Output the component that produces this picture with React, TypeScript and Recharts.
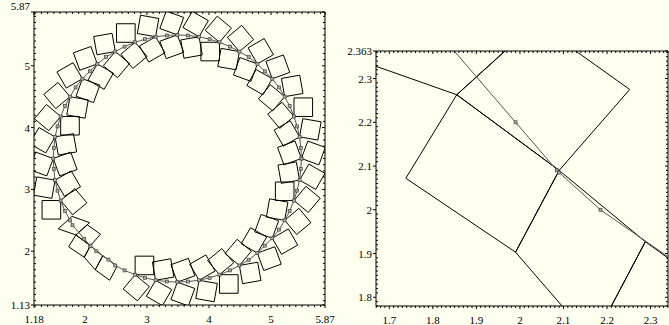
import React from 'react';
import { ScatterChart, Scatter, XAxis, YAxis } from 'recharts';

type Pt = [number, number];

// gray traced curve (square markers)
const ringPts: Pt[] = [
  [5.49, 3.5], [5.48, 3.67], [5.46, 3.85], [5.42, 4.02], [5.37, 4.18], [5.3, 4.35],
  [5.22, 4.5], [5.13, 4.65], [5.02, 4.79], [4.9, 4.91], [4.78, 5.03], [4.64, 5.14],
  [4.49, 5.23], [4.34, 5.31], [4.17, 5.38], [4.01, 5.43], [3.84, 5.47], [3.66, 5.49],
  [3.49, 5.5], [3.32, 5.49], [3.14, 5.47], [2.97, 5.43], [2.81, 5.38], [2.64, 5.31],
  [2.49, 5.23], [2.34, 5.14], [2.2, 5.03], [2.08, 4.91], [1.96, 4.79], [1.85, 4.65],
  [1.76, 4.5], [1.68, 4.35], [1.61, 4.18], [1.56, 4.02], [1.52, 3.85], [1.5, 3.67],
  [1.49, 3.5], [1.5, 3.33], [1.52, 3.15], [1.56, 2.98], [1.61, 2.82], [1.68, 2.65],
  [1.76, 2.5], [1.8, 2.42], [1.99, 2.2], [2.085, 2.09], [2.09, 2.085], [2.185, 2.0],
  [2.38, 1.865], [2.49, 1.77], [2.64, 1.69], [2.81, 1.62], [2.97, 1.57], [3.14, 1.53],
  [3.32, 1.51], [3.49, 1.5], [3.66, 1.51], [3.84, 1.53], [4.01, 1.57], [4.17, 1.62],
  [4.34, 1.69], [4.49, 1.77], [4.64, 1.86], [4.78, 1.97], [4.9, 2.09], [5.02, 2.21],
  [5.13, 2.35], [5.22, 2.5], [5.3, 2.65], [5.37, 2.82], [5.42, 2.98], [5.46, 3.15],
  [5.48, 3.33],
];

// squares hanging outside the curve, first corner on the curve
const outerBoxes: Pt[][] = [
  [[2.81, 1.62], [3.04, 1.427], [2.847, 1.197], [2.617, 1.39]],
  [[3.14, 1.53], [3.4, 1.38], [3.25, 1.12], [2.99, 1.27]],
  [[3.49, 1.5], [3.772, 1.397], [3.669, 1.115], [3.387, 1.218]],
  [[3.84, 1.53], [4.135, 1.478], [4.083, 1.182], [3.788, 1.235]],
  [[4.17, 1.62], [4.47, 1.62], [4.47, 1.32], [4.17, 1.32]],
  [[4.49, 1.77], [4.785, 1.822], [4.838, 1.527], [4.542, 1.475]],
  [[4.78, 1.97], [5.062, 2.073], [5.165, 1.791], [4.883, 1.688]],
  [[5.02, 2.21], [5.28, 2.36], [5.43, 2.1], [5.17, 1.95]],
  [[5.22, 2.5], [5.45, 2.693], [5.643, 2.463], [5.413, 2.27]],
  [[5.37, 2.82], [5.563, 3.05], [5.793, 2.857], [5.6, 2.627]],
  [[5.46, 3.15], [5.61, 3.41], [5.87, 3.26], [5.72, 3.0]],
  [[5.49, 3.5], [5.593, 3.782], [5.875, 3.679], [5.772, 3.397]],
  [[5.46, 3.85], [5.512, 4.145], [5.808, 4.093], [5.755, 3.798]],
  [[5.37, 4.18], [5.37, 4.48], [5.67, 4.48], [5.67, 4.18]],
  [[5.22, 4.5], [5.168, 4.795], [5.463, 4.848], [5.515, 4.552]],
  [[5.02, 4.79], [4.917, 5.072], [5.199, 5.175], [5.302, 4.893]],
  [[4.78, 5.03], [4.63, 5.29], [4.89, 5.44], [5.04, 5.18]],
  [[4.49, 5.23], [4.297, 5.46], [4.527, 5.653], [4.72, 5.423]],
  [[4.17, 5.38], [3.94, 5.573], [4.133, 5.803], [4.363, 5.61]],
  [[3.84, 5.47], [3.58, 5.62], [3.73, 5.88], [3.99, 5.73]],
  [[3.49, 5.5], [3.208, 5.603], [3.311, 5.885], [3.593, 5.782]],
  [[3.14, 5.47], [2.845, 5.522], [2.897, 5.818], [3.192, 5.765]],
  [[2.81, 5.38], [2.51, 5.38], [2.51, 5.68], [2.81, 5.68]],
  [[2.49, 5.23], [2.195, 5.178], [2.142, 5.473], [2.438, 5.525]],
  [[2.2, 5.03], [1.918, 4.927], [1.815, 5.209], [2.097, 5.312]],
  [[1.96, 4.79], [1.7, 4.64], [1.55, 4.9], [1.81, 5.05]],
  [[1.76, 4.5], [1.53, 4.307], [1.337, 4.537], [1.567, 4.73]],
  [[1.61, 4.18], [1.417, 3.95], [1.187, 4.143], [1.38, 4.373]],
  [[1.52, 3.85], [1.37, 3.59], [1.11, 3.74], [1.26, 4.0]],
  [[1.49, 3.5], [1.387, 3.218], [1.105, 3.321], [1.208, 3.603]],
  [[1.52, 3.15], [1.468, 2.855], [1.172, 2.907], [1.225, 3.202]],
  [[1.61, 2.82], [1.61, 2.52], [1.31, 2.52], [1.31, 2.82]],
];

// squares hanging inside the curve
const innerBoxes: Pt[][] = [
  [[2.81, 1.62], [2.81, 1.92], [3.11, 1.92], [3.11, 1.62]],
  [[3.14, 1.53], [3.088, 1.825], [3.383, 1.878], [3.435, 1.582]],
  [[3.49, 1.5], [3.387, 1.782], [3.669, 1.885], [3.772, 1.603]],
  [[3.84, 1.53], [3.69, 1.79], [3.95, 1.94], [4.1, 1.68]],
  [[4.17, 1.62], [3.977, 1.85], [4.207, 2.043], [4.4, 1.813]],
  [[4.49, 1.77], [4.26, 1.963], [4.453, 2.193], [4.683, 2.0]],
  [[4.78, 1.97], [4.52, 2.12], [4.67, 2.38], [4.93, 2.23]],
  [[5.02, 2.21], [4.738, 2.313], [4.841, 2.595], [5.123, 2.492]],
  [[5.22, 2.5], [4.925, 2.552], [4.977, 2.848], [5.272, 2.795]],
  [[5.37, 2.82], [5.07, 2.82], [5.07, 3.12], [5.37, 3.12]],
  [[5.46, 3.15], [5.165, 3.098], [5.112, 3.393], [5.408, 3.445]],
  [[5.49, 3.5], [5.208, 3.397], [5.105, 3.679], [5.387, 3.782]],
  [[5.46, 3.85], [5.2, 3.7], [5.05, 3.96], [5.31, 4.11]],
  [[5.37, 4.18], [5.14, 3.987], [4.947, 4.217], [5.177, 4.41]],
  [[5.22, 4.5], [5.027, 4.27], [4.797, 4.463], [4.99, 4.693]],
  [[5.02, 4.79], [4.87, 4.53], [4.61, 4.68], [4.76, 4.94]],
  [[4.78, 5.03], [4.677, 4.748], [4.395, 4.851], [4.498, 5.133]],
  [[4.49, 5.23], [4.438, 4.935], [4.142, 4.987], [4.195, 5.282]],
  [[4.17, 5.38], [4.17, 5.08], [3.87, 5.08], [3.87, 5.38]],
  [[3.84, 5.47], [3.892, 5.175], [3.597, 5.122], [3.545, 5.418]],
  [[3.49, 5.5], [3.593, 5.218], [3.311, 5.115], [3.208, 5.397]],
  [[3.14, 5.47], [3.29, 5.21], [3.03, 5.06], [2.88, 5.32]],
  [[2.81, 5.38], [3.003, 5.15], [2.773, 4.957], [2.58, 5.187]],
  [[2.49, 5.23], [2.72, 5.037], [2.527, 4.807], [2.297, 5.0]],
  [[2.2, 5.03], [2.46, 4.88], [2.31, 4.62], [2.05, 4.77]],
  [[1.96, 4.79], [2.242, 4.687], [2.139, 4.405], [1.857, 4.508]],
  [[1.76, 4.5], [2.055, 4.448], [2.003, 4.152], [1.708, 4.205]],
  [[1.61, 4.18], [1.91, 4.18], [1.91, 3.88], [1.61, 3.88]],
  [[1.52, 3.85], [1.815, 3.902], [1.868, 3.607], [1.572, 3.555]],
  [[1.49, 3.5], [1.772, 3.603], [1.875, 3.321], [1.593, 3.218]],
  [[1.52, 3.15], [1.78, 3.3], [1.93, 3.04], [1.67, 2.89]],
  [[1.61, 2.82], [1.84, 3.013], [2.033, 2.783], [1.803, 2.59]],
];

// the boxes seen close up in the right-hand panel
const closeBoxes: Pt[][] = [
  [[1.738, 2.072], [1.855, 2.263], [2.09, 2.09], [1.99, 1.903]],
  [[2.09, 2.09], [2.288, 1.927], [2.167, 1.699], [1.99, 1.903]],
  [[1.855, 2.263], [2.037, 2.428], [2.252, 2.275], [2.09, 2.09]],
  [[1.855, 2.263], [1.57, 2.363], [1.792, 2.563], [2.077, 2.463]],
  [[2.288, 1.927], [2.52, 1.76], [2.4, 1.53], [2.167, 1.699]],
];

const leftXTicks = [1.18, 2, 3, 4, 5, 5.87];
const leftYTicks = [1.13, 2, 3, 4, 5, 5.87];
const rightXTicks = [1.7, 1.8, 1.9, 2, 2.1, 2.2, 2.3];
const rightYTicks = [1.8, 1.9, 2, 2.1, 2.2, 2.3, 2.363];

const FONT = '"Liberation Serif", "Times New Roman", serif';
const BG = '#fffff0';

function minors(lo: number, hi: number, step: number) {
  const out: number[] = [];
  const start = Math.ceil(lo / step - 1e-9);
  for (let i = start; i * step <= hi + 1e-9; i++) out.push(+(i * step).toFixed(4));
  return out;
}

const isIn = (v: number, list: number[]) => list.some((m) => Math.abs(m - v) < 1e-6);

type Side = 'bottom' | 'left' | 'top' | 'right';

function makeTick(side: Side, major: number[], labelled: boolean, nudge?: (v: number) => number) {
  return (props: any) => {
    const { x, y, payload } = props;
    const v = payload.value as number;
    const big = isIn(v, major);
    const len = big ? 3 : 2;
    let line;
    if (side === 'bottom') line = <line x1={x} x2={x} y1={y} y2={y + len} stroke="#000" />;
    else if (side === 'top') line = <line x1={x} x2={x} y1={y} y2={y + len} stroke="#000" />;
    else if (side === 'left')
      line = big ? <line x1={x - len} x2={x} y1={y} y2={y} stroke="#000" /> : <line x1={x} x2={x + len} y1={y} y2={y} stroke="#000" />;
    else line = <line x1={x - len} x2={x} y1={y} y2={y} stroke="#000" />;
    let label = null;
    if (labelled && big) {
      if (side === 'bottom')
        label = <text x={x} y={y + 18} textAnchor="middle" fontSize={11} fontFamily={FONT} fill="#000">{String(v)}</text>;
      if (side === 'left')
        label = <text x={x - 4} y={y + 4 + (nudge ? nudge(v) : 0)} textAnchor="end" fontSize={11} fontFamily={FONT} fill="#000">{String(v)}</text>;
    }
    return <g>{line}{label}</g>;
  };
}

const dot = (props: any) => {
  const { cx, cy } = props;
  if (cx == null || cy == null) return <g />;
  return <rect x={cx - 1.5} y={cy - 1.5} width={3} height={3} fill="#aaa" stroke="#444" strokeWidth={0.7} />;
};
const none = () => <g />;

const allBoxes = [...outerBoxes, ...innerBoxes, ...closeBoxes];

function Panel({ w, h, margin, xDom, yDom, xTicks, yTicks, xStep, yStep, yW, xH, nudge }: any) {
  const xAll = [...new Set([...minors(xDom[0], xDom[1], xStep), ...xTicks])].sort((a, b) => a - b);
  const yAll = [...new Set([...minors(yDom[0], yDom[1], yStep), ...yTicks])].sort((a, b) => a - b);
  const ring = [...ringPts, ringPts[0]].map(([x, y]) => ({ x, y }));
  return (
    <ScatterChart width={w} height={h} margin={margin}>
      <XAxis xAxisId="t" orientation="top" type="number" dataKey="x" domain={xDom} allowDataOverflow height={1}
        ticks={xAll} interval={0} tickSize={0} tickMargin={0} tickLine={false} tick={makeTick('top', xTicks, false)} stroke="#000" />
      <XAxis xAxisId="b" orientation="bottom" type="number" dataKey="x" domain={xDom} allowDataOverflow height={xH}
        ticks={xAll} interval={0} tickSize={0} tickMargin={0} tickLine={false} tick={makeTick('bottom', xTicks, true)} stroke="#000" />
      <YAxis yAxisId="l" orientation="left" type="number" dataKey="y" domain={yDom} allowDataOverflow width={yW}
        ticks={yAll} interval={0} tickSize={0} tickMargin={0} tickLine={false} tick={makeTick('left', yTicks, true, nudge)} stroke="#000" />
      <YAxis yAxisId="r" orientation="right" type="number" dataKey="y" domain={yDom} allowDataOverflow width={1}
        ticks={yAll} interval={0} tickSize={0} tickMargin={0} tickLine={false} tick={makeTick('right', yTicks, false)} stroke="#000" />
      {allBoxes.map((b, i) => (
        <Scatter key={i} xAxisId="b" yAxisId="l" data={[...b, b[0]].map(([x, y]) => ({ x, y }))}
          line={{ stroke: '#000', strokeWidth: 1 }} lineType="joint" shape={none} isAnimationActive={false} />
      ))}
      <Scatter xAxisId="b" yAxisId="l" data={ring} line={{ stroke: '#555', strokeWidth: 1 }} lineType="joint"
        shape={dot} isAnimationActive={false} />
    </ScatterChart>
  );
}

export default function App() {
  return (
    <div style={{ position: 'absolute', left: 0, top: 0, width: 669, height: 325, background: BG, fontFamily: FONT }}>
      <div style={{ position: 'absolute', left: 0, top: 0 }}>
        <Panel w={335} h={325} margin={{ top: 11, right: 9, bottom: 0, left: 0 }} xH={20}
          xDom={[1.18, 5.87]} yDom={[1.13, 5.87]} xTicks={leftXTicks} yTicks={leftYTicks}
          xStep={0.1} yStep={0.1} yW={34} nudge={(v: number) => (v === 5.87 ? -6 : 0)} />
      </div>
      <div style={{ position: 'absolute', left: 335, top: 0 }}>
        <Panel w={334} h={325} margin={{ top: 50, right: 0, bottom: 0, left: 0 }} xH={19}
          xDom={[1.6695, 2.34]} yDom={[1.78, 2.363]} xTicks={rightXTicks} yTicks={rightYTicks}
          xStep={0.01} yStep={0.01} yW={41} />
      </div>
    </div>
  );
}
